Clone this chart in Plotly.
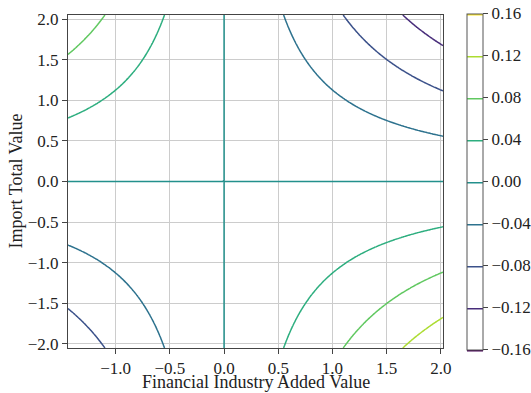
import numpy as np
import plotly.graph_objects as go

# Axis grids (feature values) and interaction strength
x_values = np.linspace(-1.44, 2.02, 241)   # Financial Industry Added Value
y_values = np.linspace(-2.05, 2.05, 241)   # Import Total Value
interaction_coef = -0.0355

levels_start, levels_end, levels_step = -0.16, 0.16, 0.04
cbar_ticks = [-0.16, -0.12, -0.08, -0.04, 0.0, 0.04, 0.08, 0.12, 0.16]

x_title = "Financial Industry Added Value"
y_title = "Import Total Value"

z_values = interaction_coef * np.outer(y_values, x_values)

font_family = "Liberation Serif, Times New Roman, serif"

fig = go.Figure(
    go.Contour(
        x=x_values,
        y=y_values,
        z=z_values,
        colorscale="Viridis",
        zmin=levels_start,
        zmax=levels_end,
        autocontour=False,
        contours=dict(start=levels_start, end=levels_end, size=levels_step,
                      coloring="lines"),
        line=dict(width=1.5),
        colorbar=dict(
            x=1.064, xanchor="left", y=0.5, yanchor="middle",
            xpad=0, ypad=0,
            len=1.01, lenmode="fraction",
            thickness=16, outlinewidth=1, outlinecolor="#555",
            tickvals=cbar_ticks,
            ticktext=[f"{v:.2f}".replace("-", "\u2212") if v != 0 else "0.00" for v in cbar_ticks],
            ticks="outside", ticklen=5, tickcolor="#444",
            ticklabeloverflow="allow",
            tickfont=dict(family=font_family, size=17, color="#222"),
        ),
        showscale=True,
    )
)

fig.update_layout(
    width=531, height=393,
    margin=dict(l=68, r=88, t=15, b=45, autoexpand=False),
    paper_bgcolor="white", plot_bgcolor="white",
    font=dict(family=font_family, size=17, color="#222"),
    showlegend=False,
    annotations=[
        dict(text=x_title, xref="paper", yref="paper", x=0.5, y=0,
             xanchor="center", yanchor="middle", yshift=-34, showarrow=False,
             borderpad=0,
             font=dict(size=18, family=font_family, color="#222")),
        dict(text=y_title, xref="paper", yref="paper", x=0, y=0.5,
             xanchor="center", yanchor="middle", xshift=-53, textangle=-90,
             showarrow=False, borderpad=0,
             font=dict(size=18, family=font_family, color="#222")),
    ],
)
fig.update_xaxes(
    range=[-1.44, 2.02], dtick=0.5, tick0=0,
    showgrid=True, gridcolor="#cccccc", gridwidth=1,
    showline=True, linecolor="#444", linewidth=1, mirror=True,
    ticks="outside", ticklen=5, tickcolor="#444",
    zeroline=False, automargin=False,
    tickformat=".1f",
)
fig.update_yaxes(
    range=[-2.05, 2.05], dtick=0.5, tick0=0,
    showgrid=True, gridcolor="#cccccc", gridwidth=1,
    showline=True, linecolor="#444", linewidth=1, mirror=True,
    ticks="outside", ticklen=5, tickcolor="#444",
    zeroline=False, automargin=False,
    tickformat=".1f",
)

fig.write_html(
    "out.html",
    config={"displayModeBar": False},
    post_script="document.body.style.margin='0';document.documentElement.style.overflow='hidden';document.body.style.overflow='hidden';",
)
